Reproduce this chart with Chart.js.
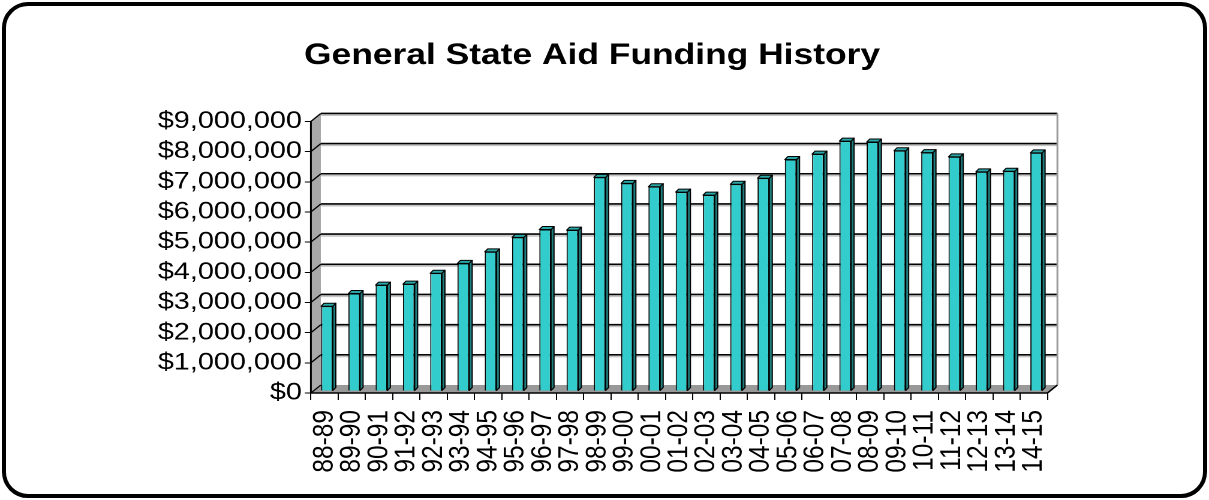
<!DOCTYPE html>
<html>
<head>
<meta charset="utf-8">
<title>General State Aid Funding History</title>
<script src="https://cdn.jsdelivr.net/npm/chart.js@4.4.1/dist/chart.umd.min.js"></script>
<style>
  html, body { margin: 0; padding: 0; background: #fff; overflow: hidden; }
  #wrap {
    position: absolute; left: 0; top: 0;
    width: 1008px; height: 500px;
    transform: scaleX(1.1994); transform-origin: 0 0;
  }
  #frame {
    position: absolute; left: 2px; top: 2px;
    width: 1205px; height: 496px; box-sizing: border-box;
    border: 4px solid #000; border-radius: 26px;
  }
</style>
</head>
<body>
<div id="wrap"><canvas id="myChart"></canvas></div>
<div id="frame"></div>
<script>
const years = ['88-89', '89-90', '90-91', '91-92', '92-93', '93-94', '94-95',
  '95-96', '96-97', '97-98', '98-99', '99-00', '00-01', '01-02', '02-03',
  '03-04', '04-05', '05-06', '06-07', '07-08', '08-09', '09-10', '10-11',
  '11-12', '12-13', '13-14', '14-15'];

const funding = [2810000, 3230000, 3510000, 3540000, 3900000, 4230000, 4610000,
  5090000, 5350000, 5330000, 7080000, 6880000, 6770000, 6590000, 6490000,
  6850000, 7050000, 7670000, 7850000, 8280000, 8250000, 7960000, 7900000,
  7760000, 7260000, 7280000, 7890000];

const axisMin = 0;
const axisMax = 9000000;
const axisStep = 1000000;

const titleText = 'General State Aid Funding History';

// depth of the box: back wall is pushed right and up
const depth = { x: 8.3, y: -8 };
// columns stand a bit behind the front edge, with a thin side/top
const barShift = { x: 2, y: -2 };
const barSide = { x: 2.5, y: -3 };

function seg(ctx, x1, y1, x2, y2) {
    ctx.beginPath();
    ctx.moveTo(x1, y1);
    ctx.lineTo(x2, y2);
    ctx.stroke();
}

function quad(ctx, pts, fill) {
    ctx.beginPath();
    ctx.moveTo(pts[0][0], pts[0][1]);
    for (let i = 1; i < pts.length; i++) ctx.lineTo(pts[i][0], pts[i][1]);
    ctx.closePath();
    ctx.fillStyle = fill;
    ctx.fill();
    ctx.stroke();
}

const box3d = {
    id: 'box3d',
    beforeDatasetsDraw(chart) {
        const { ctx, chartArea: a, scales: { y } } = chart;
        const dx = depth.x, dy = depth.y;
        ctx.save();

        // left wall
        ctx.fillStyle = '#a9a9a9';
        ctx.beginPath();
        ctx.moveTo(a.left, a.top);
        ctx.lineTo(a.left + dx, a.top + dy);
        ctx.lineTo(a.left + dx, a.bottom + dy);
        ctx.lineTo(a.left, a.bottom);
        ctx.closePath();
        ctx.fill();

        // floor
        ctx.fillStyle = '#999999';
        ctx.beginPath();
        ctx.moveTo(a.left, a.bottom);
        ctx.lineTo(a.right, a.bottom);
        ctx.lineTo(a.right + dx, a.bottom + dy);
        ctx.lineTo(a.left + dx, a.bottom + dy);
        ctx.closePath();
        ctx.fill();

        // gridlines on the back wall, carried down the left wall
        y.ticks.forEach(t => {
            const py = y.getPixelForValue(t.value);
            if (t.value > axisMin) {
                ctx.strokeStyle = '#c4c4c4';
                ctx.lineWidth = 1.6;
                seg(ctx, a.left + dx, py + dy + 1.8, a.right + dx, py + dy + 1.8);
                ctx.strokeStyle = '#000';
                ctx.lineWidth = 1.6;
                seg(ctx, a.left + dx, py + dy, a.right + dx, py + dy);
            }
            ctx.strokeStyle = '#000';
            ctx.lineWidth = 1.2;
            seg(ctx, a.left, py, a.left + dx, py + dy);
        });

        // back wall right edge
        ctx.strokeStyle = '#9a9a9a';
        ctx.lineWidth = 1.5;
        seg(ctx, a.right + dx, a.top + dy, a.right + dx, a.bottom + dy);

        // front edges
        ctx.strokeStyle = '#000';
        ctx.lineWidth = 1.5;
        seg(ctx, a.right, a.bottom, a.right + dx, a.bottom + dy);
        seg(ctx, a.left, a.top, a.left, a.bottom);
        seg(ctx, a.left, a.bottom, a.right, a.bottom);
        ctx.restore();

        ctx.save();
        ctx.translate(barShift.x, barShift.y);
    },
    afterDatasetsDraw(chart) {
        const ctx = chart.ctx;
        ctx.strokeStyle = '#000';
        ctx.lineWidth = 1;
        ctx.lineJoin = 'round';
        chart.getDatasetMeta(0).data.forEach(bar => {
            const { x, y, base, width } = bar.getProps(['x', 'y', 'base', 'width'], true);
            const l = x - width / 2, r = x + width / 2;
            // side face
            quad(ctx, [[r, y], [r + barSide.x, y + barSide.y], [r + barSide.x, base + barSide.y], [r, base]], '#207d7d');
            // top face
            quad(ctx, [[l, y], [l + barSide.x, y + barSide.y], [r + barSide.x, y + barSide.y], [r, y]], '#2aa6a6');
        });
        ctx.restore();
    }
};

const ctx = document.getElementById('myChart');

new Chart(ctx, {
    type: 'bar',
    data: {
        labels: years,
        datasets: [{
            label: 'General State Aid',
            data: funding,
            backgroundColor: '#33cccc',
            borderColor: '#000',
            borderWidth: 1,
            barPercentage: 0.43,
            categoryPercentage: 1
        }]
    },
    options: {
        responsive: true,
        maintainAspectRatio: false,
        animation: false,
        devicePixelRatio: 2,
        layout: {
            padding: { left: 113.9, right: 134.7, top: 0, bottom: 0 }
        },
        plugins: {
            legend: { display: false },
            tooltip: { enabled: false },
            title: {
                display: true,
                text: titleText,
                color: '#000',
                font: { family: 'Liberation Sans', size: 29.5, weight: 'bold', lineHeight: 1.2 },
                padding: { top: 38, bottom: 48 }
            }
        },
        scales: {
            x: {
                afterFit(scale) { scale.height = 107; },
                grid: {
                    display: true,
                    drawOnChartArea: false,
                    drawTicks: true,
                    tickLength: 7,
                    offset: true,
                    color: '#000',
                    lineWidth: 1
                },
                border: { display: false },
                ticks: {
                    minRotation: 90,
                    maxRotation: 90,
                    autoSkip: false,
                    padding: 10,
                    color: '#000',
                    font: { family: 'Liberation Sans', size: 24.5 }
                }
            },
            y: {
                min: axisMin,
                max: axisMax,
                afterFit(scale) { scale.width = 145.3; },
                grid: {
                    display: true,
                    drawOnChartArea: false,
                    drawTicks: true,
                    tickLength: 5,
                    color: '#000',
                    lineWidth: 1
                },
                border: { display: false },
                ticks: {
                    stepSize: axisStep,
                    autoSkip: false,
                    padding: 2.5,
                    color: '#000',
                    font: { family: 'Liberation Sans', size: 24 },
                    callback: v => '$' + v.toLocaleString('en-US')
                }
            }
        }
    },
    plugins: [box3d]
});
</script>
</body>
</html>
